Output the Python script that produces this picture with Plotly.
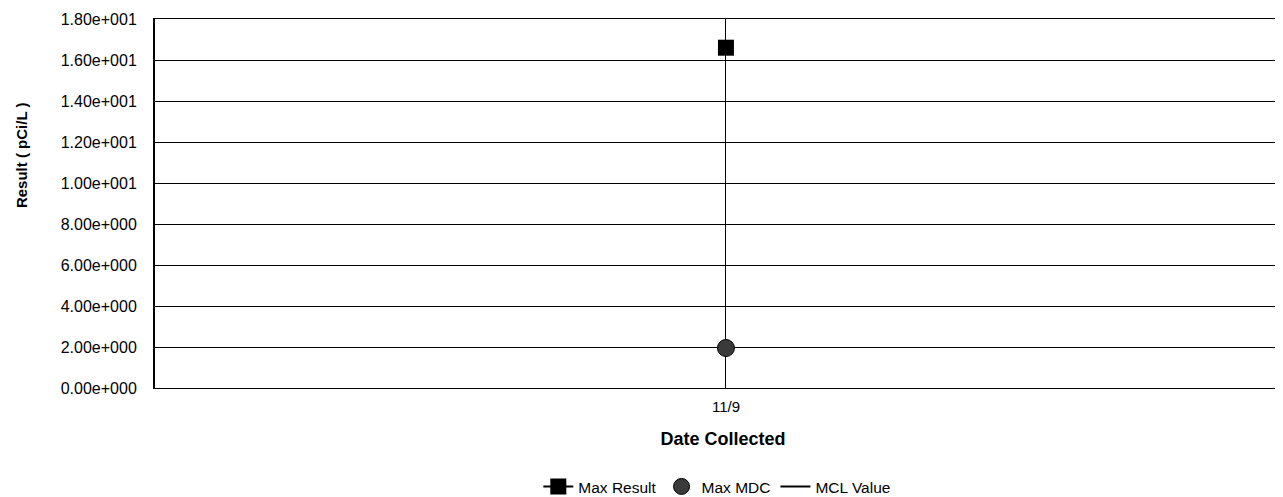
import plotly.graph_objects as go

categories = ["11/9"]
max_result = [16.6]
max_mdc = [1.95]
mcl_value = [None]
y_ticks = [0, 2, 4, 6, 8, 10, 12, 14, 16, 18]
y_tick_labels = ["0.00e+000", "2.00e+000", "4.00e+000", "6.00e+000", "8.00e+000",
                 "1.00e+001", "1.20e+001", "1.40e+001", "1.60e+001", "1.80e+001"]

fig = go.Figure()
fig.add_trace(go.Scatter(x=categories, y=max_result, name="Max Result", mode="lines+markers",
                         line=dict(color="black", width=2),
                         marker=dict(symbol="square", size=16, color="black")))
fig.add_trace(go.Scatter(x=categories, y=max_mdc, name="Max MDC", mode="markers",
                         marker=dict(symbol="circle", size=17, color="#3a3a3a",
                                     line=dict(color="black", width=1))))
fig.add_trace(go.Scatter(x=categories, y=mcl_value, name="MCL Value", mode="lines",
                         line=dict(color="black", width=2)))

fig.update_layout(
    width=1283, height=497,
    paper_bgcolor="white", plot_bgcolor="white",
    margin=dict(l=147, r=0, t=11, b=117, autoexpand=False),
    font=dict(family="Liberation Sans, Arial, sans-serif", size=15, color="black"),
    showlegend=True,
    legend=dict(orientation="h", x=0.495, xanchor="center", y=-0.268, yanchor="middle",
                font=dict(size=15.5), tracegroupgap=0),
    annotations=[dict(text="<b>Result ( pCi/L )</b>", textangle=-90, xref="paper", yref="paper",
                      x=-0.118, y=0.631, xanchor="center", yanchor="middle",
                      showarrow=False, font=dict(size=15))],
)
fig.update_xaxes(type="category", range=[-0.5026, 0.4974], showgrid=True, gridcolor="black",
                 gridwidth=1, showline=True, linecolor="black", linewidth=1, mirror=True,
                 ticks="outside", ticklen=5, tickcolor="rgba(0,0,0,0)", tickfont=dict(size=15),
                 title=dict(text="<b>Date Collected</b>", font=dict(size=18), standoff=18),
                 zeroline=False)
fig.update_yaxes(range=[0, 18], tickvals=y_ticks, ticktext=y_tick_labels, showgrid=True,
                 gridcolor="black", gridwidth=1, showline=True, linecolor="black", linewidth=2,
                 ticks="outside", ticklen=13, tickcolor="rgba(0,0,0,0)", zeroline=False,
                 tickfont=dict(size=16))

fig.write_html("out.html")
